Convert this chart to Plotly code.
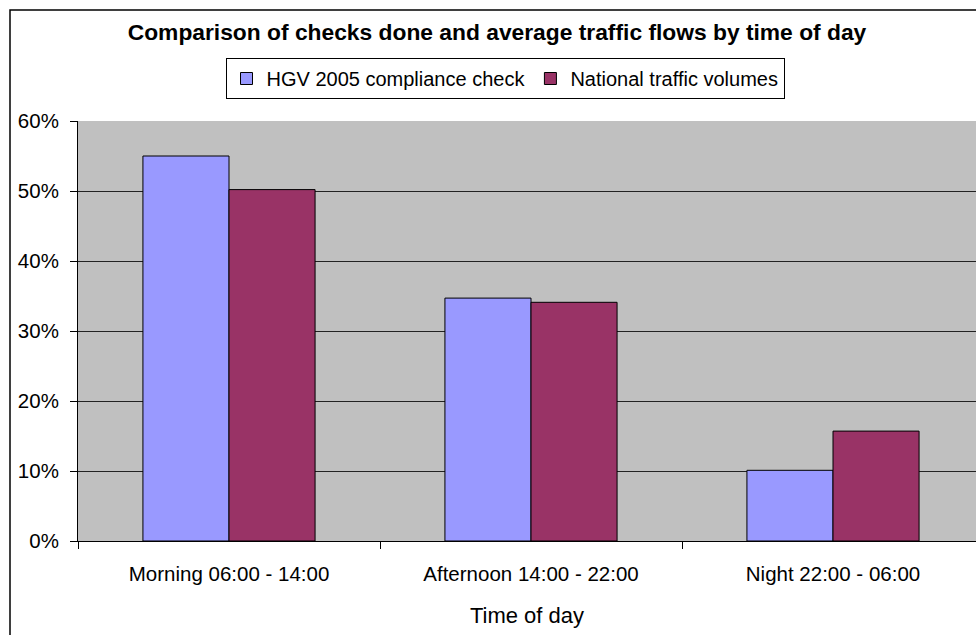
import plotly.graph_objects as go

categories = ["Morning 06:00 - 14:00", "Afternoon 14:00 - 22:00", "Night 22:00 - 06:00"]
hgv_checks = [0.550, 0.347, 0.101]
national_volumes = [0.502, 0.341, 0.157]
series_names = ["HGV 2005 compliance check", "National traffic volumes"]
y_ticks = [0, 0.1, 0.2, 0.3, 0.4, 0.5, 0.6]
y_tick_labels = ["0%", "10%", "20%", "30%", "40%", "50%", "60%"]

FONT = "Liberation Sans, Arial, sans-serif"

fig = go.Figure()
fig.add_trace(go.Bar(x=categories, y=hgv_checks, name=series_names[0],
                     marker=dict(color="#9999FF", line=dict(color="#000000", width=1))))
fig.add_trace(go.Bar(x=categories, y=national_volumes, name=series_names[1],
                     marker=dict(color="#993366", line=dict(color="#000000", width=1))))

fig.update_layout(
    width=976, height=635,
    margin=dict(l=78, r=0, t=121, b=94),
    paper_bgcolor="white", plot_bgcolor="#C0C0C0",
    barmode="group", bargap=0.43, bargroupgap=0,
    font=dict(family=FONT, color="black", size=20),
    title=dict(text="<b>Comparison of checks done and average traffic flows by time of day</b>",
               font=dict(size=22.8, family=FONT, color="black"),
               x=497 / 976, xref="container", xanchor="center",
               y=1 - 32 / 635, yref="container", yanchor="middle"),
    legend=dict(orientation="h", x=(505 - 78) / 898, xanchor="center",
                y=(541 - 58) / 420, yanchor="top",
                bordercolor="black", borderwidth=1, bgcolor="white",
                font=dict(size=20, family=FONT), itemwidth=30,
                traceorder="normal"),
    showlegend=True,
)
fig.update_xaxes(type="category", range=[-0.5, 2.4735], tickson="boundaries",
                 ticks="outside", ticklen=7, tickcolor="black",
                 showline=True, linecolor="black", linewidth=1,
                 showgrid=False, tickfont=dict(size=20.5),
                 ticklabelstandoff=14,
                 title=dict(text="Time of day", font=dict(size=22), standoff=24))
fig.update_yaxes(range=[0, 0.6], tickvals=y_ticks, ticktext=y_tick_labels,
                 ticks="outside", ticklen=7, tickcolor="black",
                 showline=True, linecolor="black", linewidth=1,
                 showgrid=True, gridcolor="#222222", gridwidth=1,
                 zeroline=False, tickfont=dict(size=20.5), ticklabelstandoff=7)

# outer chart border
fig.add_shape(type="rect", xref="paper", yref="paper",
              x0=(10 - 78) / 898, x1=1.05, y0=(541 - 660) / 420, y1=(541 - 10) / 420,
              line=dict(color="black", width=1.5), fillcolor="rgba(0,0,0,0)", layer="below")

fig.write_html("out.html", config={"displayModeBar": False},
               post_script="document.body.style.margin='0px';")
